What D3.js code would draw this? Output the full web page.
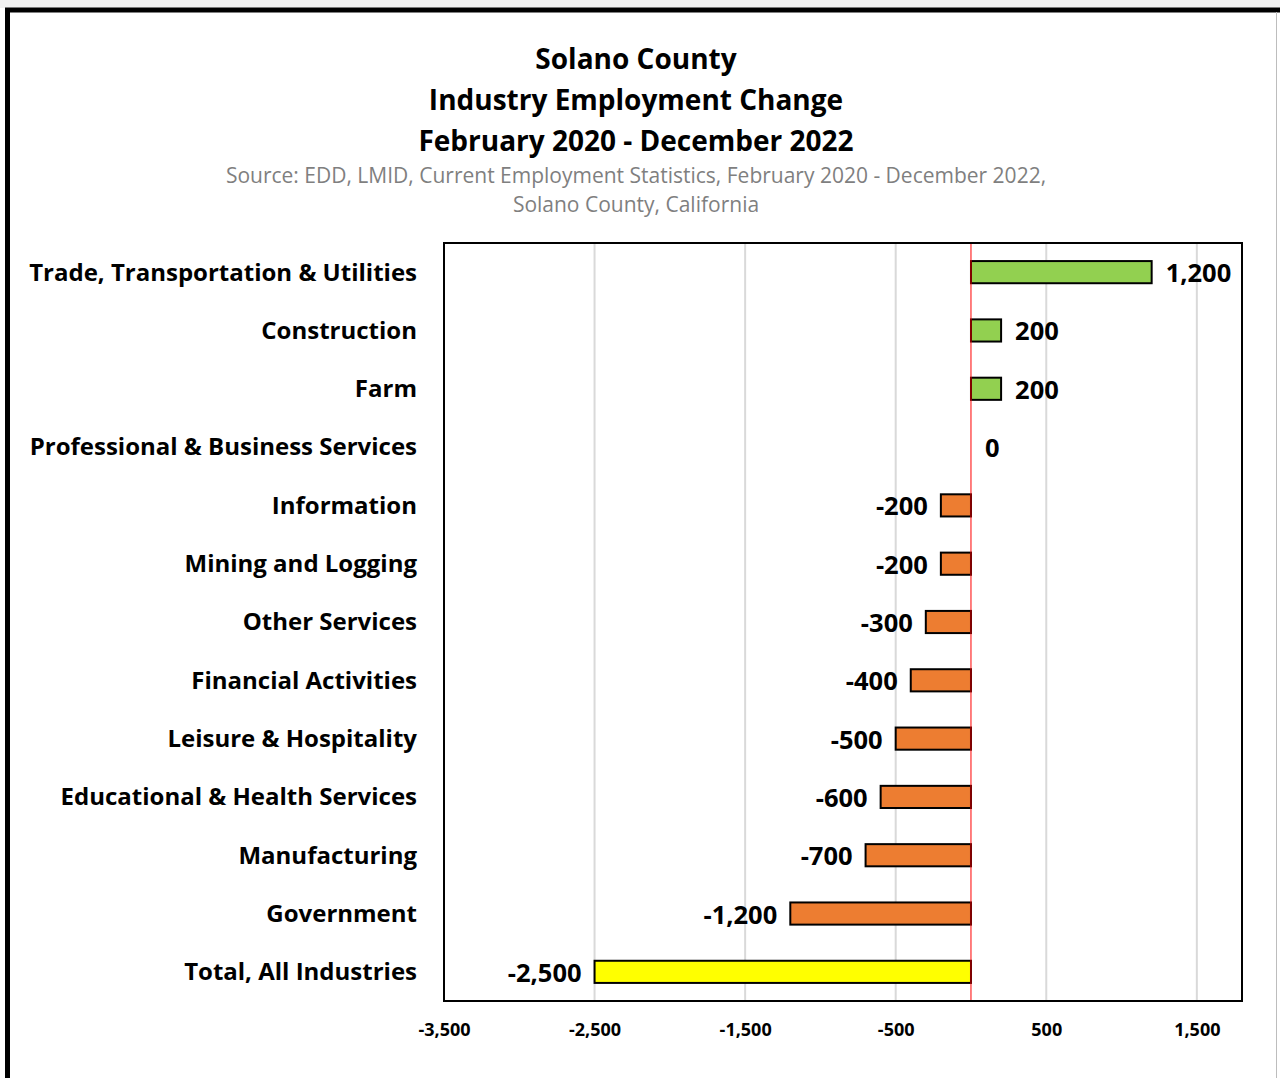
<!DOCTYPE html>
<html>
<head>
<meta charset="utf-8">
<script src="https://cdn.jsdelivr.net/npm/d3@7/dist/d3.min.js"></script>
<style>
  body { margin: 0; background: #fff; }
  svg text { font-family: "Open Sans", Lato, sans-serif; }
</style>
</head>
<body>
<div id="chart"></div>
<script>
// data
var industries = [
  "Trade, Transportation & Utilities",
  "Construction",
  "Farm",
  "Professional & Business Services",
  "Information",
  "Mining and Logging",
  "Other Services",
  "Financial Activities",
  "Leisure & Hospitality",
  "Educational & Health Services",
  "Manufacturing",
  "Government",
  "Total, All Industries"
];
var changes = [1200, 200, 200, 0, -200, -200, -300, -400, -500, -600, -700, -1200, -2500];
var xTicks = [-3500, -2500, -1500, -500, 500, 1500];
var titleLines = ["Solano County", "Industry Employment Change", "February 2020 - December 2022"];
var sourceLines = ["Source: EDD, LMID, Current Employment Statistics, February 2020 - December 2022,", "Solano County, California"];

var W = 1280, H = 1078;
var plot = {left: 444, top: 243, right: 1242, bottom: 1001};

// plain hyphen for negatives, like the original
var locale = d3.formatLocale({decimal: ".", thousands: ",", grouping: [3], currency: ["$", ""], minus: "-"});
var fmt = locale.format(",");

var svg = d3.select("#chart").append("svg")
    .attr("width", W).attr("height", H);

// page frame (cropped screenshot look)
svg.append("rect").attr("x", 0).attr("y", 0).attr("width", W).attr("height", 8).attr("fill", "#f0f0f0");
svg.append("line").attr("x1", 7.5).attr("x2", 7.5).attr("y1", 8).attr("y2", H)
    .attr("stroke", "#000").attr("stroke-width", 5);
svg.append("line").attr("x1", 5).attr("x2", W).attr("y1", 10).attr("y2", 10)
    .attr("stroke", "#000").attr("stroke-width", 5);
svg.append("line").attr("x1", 1276.5).attr("x2", 1276.5).attr("y1", 12).attr("y2", H)
    .attr("stroke", "#bdbdbd").attr("stroke-width", 1);

// titles
svg.append("g").selectAll("text").data(titleLines).enter().append("text")
    .attr("x", 636).attr("y", function(d, i) { return 69 + i * 41; })
    .attr("text-anchor", "middle")
    .style("font-size", "28px").style("font-weight", "bold").attr("fill", "#000")
    .text(function(d) { return d; });

svg.append("g").selectAll("text").data(sourceLines).enter().append("text")
    .attr("x", 636).attr("y", function(d, i) { return 183 + i * 29; })
    .attr("text-anchor", "middle")
    .style("font-size", "21px").attr("fill", "#7f7f7f")
    .text(function(d) { return d; });

// scales
var xScale = d3.scaleLinear().domain([-3500, 1800]).range([plot.left, plot.right]);
var yScale = d3.scaleBand().domain(industries).range([plot.top, plot.bottom]).paddingInner(0.62).paddingOuter(0.31);

var data = industries.map(function(name, i) { return {name: name, value: changes[i]}; });

// gridlines
svg.append("g").selectAll("line").data(xTicks.slice(1)).enter().append("line")
    .attr("x1", function(d) { return xScale(d); })
    .attr("x2", function(d) { return xScale(d); })
    .attr("y1", plot.top).attr("y2", plot.bottom)
    .attr("stroke", "#d9d9d9").attr("stroke-width", 2);

// bars
function barColor(d) {
  if (d.name === "Total, All Industries") return "#ffff00";
  return d.value >= 0 ? "#92d050" : "#ed7d31";
}
svg.append("g").attr("id", "bars").selectAll("rect")
    .data(data.filter(function(d) { return d.value !== 0; }))
    .enter().append("rect")
    .attr("x", function(d) { return xScale(Math.min(0, d.value)); })
    .attr("y", function(d) { return yScale(d.name); })
    .attr("width", function(d) { return Math.abs(xScale(d.value) - xScale(0)); })
    .attr("height", yScale.bandwidth())
    .attr("fill", barColor)
    .attr("stroke", "#000").attr("stroke-width", 2);

// zero line
svg.append("line")
    .attr("x1", xScale(0)).attr("x2", xScale(0))
    .attr("y1", plot.top).attr("y2", plot.bottom)
    .attr("stroke", "#ff0000").attr("stroke-width", 1);

// plot border
svg.append("rect")
    .attr("x", plot.left).attr("y", plot.top)
    .attr("width", plot.right - plot.left).attr("height", plot.bottom - plot.top)
    .attr("fill", "none").attr("stroke", "#000").attr("stroke-width", 2);

// value labels
svg.append("g").selectAll("text").data(data).enter().append("text")
    .attr("x", function(d) { return d.value >= 0 ? xScale(d.value) + 14 : xScale(d.value) - 13; })
    .attr("y", function(d) { return yScale(d.name) + yScale.bandwidth() / 2 + 10; })
    .attr("text-anchor", function(d) { return d.value >= 0 ? "start" : "end"; })
    .style("font-size", "25.5px").style("font-weight", "bold").attr("fill", "#000")
    .text(function(d) { return fmt(d.value); });

// category labels
var yAxis = d3.axisLeft(yScale).tickSize(0).tickPadding(0);
var yAxisEl = svg.append("g").attr("transform", "translate(417,0)").call(yAxis);
yAxisEl.select(".domain").remove();
yAxisEl.selectAll("text")
    .attr("dy", "0.35em")
    .style("font-family", "'Open Sans', sans-serif")
    .style("font-size", "24px").style("font-weight", "bold").attr("fill", "#000");

// x axis tick labels
var xAxis = d3.axisBottom(xScale).tickValues(xTicks).tickFormat(fmt).tickSize(0).tickPadding(0);
var xAxisEl = svg.append("g").attr("transform", "translate(0,1030)").call(xAxis);
xAxisEl.select(".domain").remove();
xAxisEl.selectAll("text")
    .attr("dy", "0.35em").attr("y", 0)
    .style("font-family", "'Open Sans', sans-serif")
    .style("font-size", "18px").style("font-weight", "bold").attr("fill", "#000");
</script>
</body>
</html>
